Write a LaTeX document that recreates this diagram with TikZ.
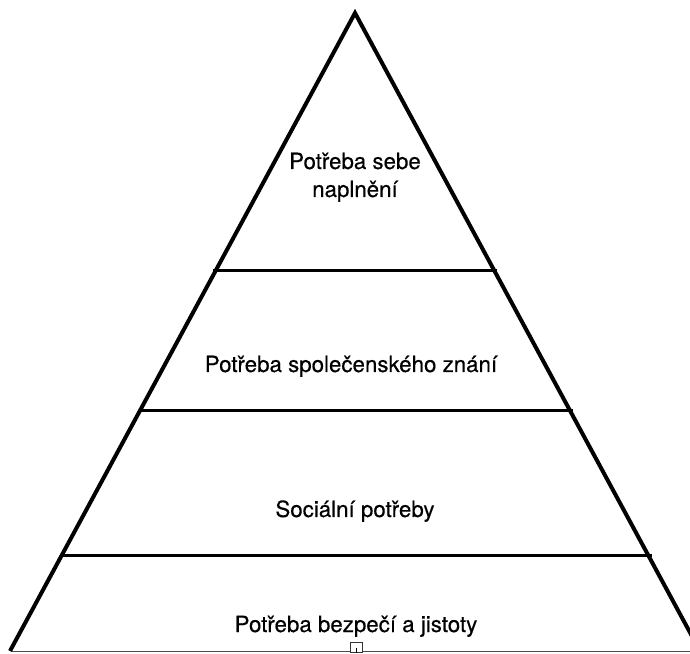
\documentclass[tikz,border=0pt]{standalone}
\usepackage{fontspec}
\setmainfont{TeX Gyre Heros}
\newfontfamily\labfont{TeX Gyre Heros}[FakeBold=0.35]
\begin{document}
\begin{tikzpicture}[x=1pt,y=1pt,
  edge/.style={line width=4pt,line cap=butt},
  level/.style={line width=3pt},
  label/.style={inner sep=0pt,anchor=base,align=center,font=\labfont\fontsize{22.3}{28}\selectfont}]
\useasboundingbox (0,0) rectangle (690,653);
\clip (0,0) rectangle (690,653);
% outline
\coordinate (apex) at (355,640);
\coordinate (bl) at (10,2);
\coordinate (br) at (700,2);
\draw[edge,line join=miter] (bl) -- (apex) -- (br);
% level lines
\coordinate (l1a) at (213,382); \coordinate (l1b) at (497,382);
\coordinate (l2a) at (140,242); \coordinate (l2b) at (573,242);
\coordinate (l3a) at (62,98);   \coordinate (l3b) at (652,98);
\draw[level] (l1a) -- (l1b);
\draw[level] (l2a) -- (l2b);
\draw[level] (l3a) -- (l3b);
% bottom line
\coordinate (b0) at (12,1.5); \coordinate (b1) at (690,1.5);
\draw[line width=1.4pt,black!70] (b0) -- (b1);
% small handle
\node[draw=black!80,line width=0.8pt,fill=white,minimum width=12pt,minimum height=10pt,inner sep=0pt,anchor=south] (handle) at (356,0) {};
\draw[line width=0.8pt] (handle.center) -- (handle.south);
% labels
\node[label] (t1) at (355,456) {Potřeba sebe\\naplnění};
\node[label] (t2) at (351,281) {Potřeba společenského znání};
\node[label] (t3) at (355,136) {Sociální potřeby};
\node[label] (t4) at (356,21) {Potřeba bezpečí a jistoty};
\end{tikzpicture}
\end{document}
